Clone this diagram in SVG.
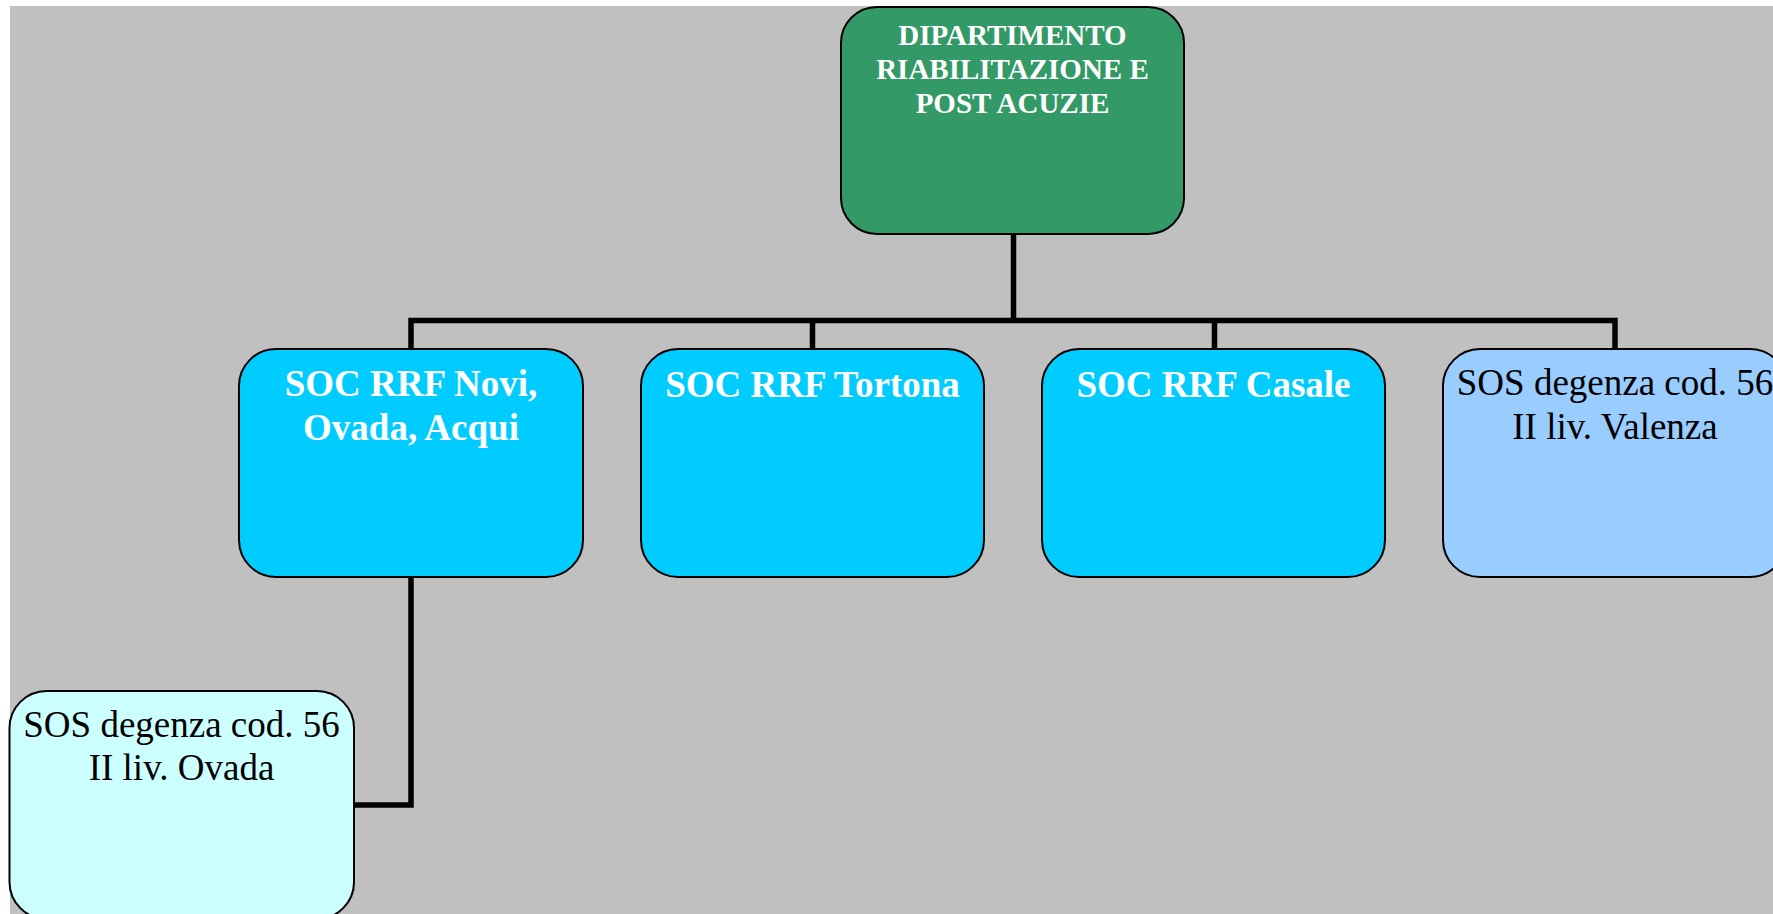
<svg xmlns="http://www.w3.org/2000/svg" width="1773" height="914" viewBox="0 0 1773 914">
  <defs>
    <style>
      .box { stroke: #000; stroke-width: 2; }
      .dept { fill: #339966; }
      .soc { fill: #00ccff; }
      .sosv { fill: #99ccff; }
      .soso { fill: #ccffff; }
      .link { fill: none; stroke: #000; stroke-width: 5.5; stroke-linejoin: miter; stroke-linecap: butt; }
      .tb { font-family: "Liberation Serif", "Times New Roman", serif; font-weight: bold; fill: #ffffff; text-anchor: middle; }
      .tr { font-family: "Liberation Serif", "Times New Roman", serif; fill: #000000; text-anchor: middle; }
    </style>
  </defs>

  <!-- page and canvas -->
  <rect x="0" y="0" width="1773" height="914" fill="#ffffff"/>
  <rect x="10" y="6" width="1763" height="908" fill="#c0c0c0"/>

  <!-- connectors -->
  <g id="connectors">
    <path class="link" d="M1013.5 234 V320.5"/>
    <path class="link" d="M411 349 V320.5 H1615 V349"/>
    <path class="link" d="M812.5 320.5 V349"/>
    <path class="link" d="M1214.5 320.5 V349"/>
    <path class="link" d="M411 577 V805 H354"/>
  </g>

  <!-- department -->
  <g id="node-dipartimento">
    <rect class="box dept" x="841" y="7" width="343" height="227" rx="36" ry="36"/>
    <text class="tb" font-size="29" x="1012.5" y="45">DIPARTIMENTO</text>
    <text class="tb" font-size="29" x="1012.5" y="79">RIABILITAZIONE E</text>
    <text class="tb" font-size="29" x="1012.5" y="113">POST ACUZIE</text>
  </g>

  <!-- complex units -->
  <g id="node-soc-novi">
    <rect class="box soc" x="239" y="349" width="344" height="228" rx="37" ry="37"/>
    <text class="tb" font-size="37" x="411" y="396">SOC RRF Novi,</text>
    <text class="tb" font-size="37" x="411" y="440">Ovada, Acqui</text>
  </g>

  <g id="node-soc-tortona">
    <rect class="box soc" x="641" y="349" width="343" height="228" rx="37" ry="37"/>
    <text class="tb" font-size="37" x="812.5" y="397">SOC RRF Tortona</text>
  </g>

  <g id="node-soc-casale">
    <rect class="box soc" x="1042" y="349" width="343" height="228" rx="37" ry="37"/>
    <text class="tb" font-size="37" x="1213.5" y="397">SOC RRF Casale</text>
  </g>

  <!-- simple units -->
  <g id="node-sos-valenza">
    <rect class="box sosv" x="1443" y="349" width="344" height="228" rx="37" ry="37"/>
    <text class="tr" font-size="37" x="1615" y="395">SOS degenza cod. 56</text>
    <text class="tr" font-size="37" x="1615" y="438.5">II liv. Valenza</text>
  </g>

  <g id="node-sos-ovada">
    <rect class="box soso" x="9.5" y="691" width="344.5" height="228" rx="37" ry="37"/>
    <text class="tr" font-size="37" x="181.5" y="737">SOS degenza cod. 56</text>
    <text class="tr" font-size="37" x="181.5" y="780">II liv. Ovada</text>
  </g>
</svg>
